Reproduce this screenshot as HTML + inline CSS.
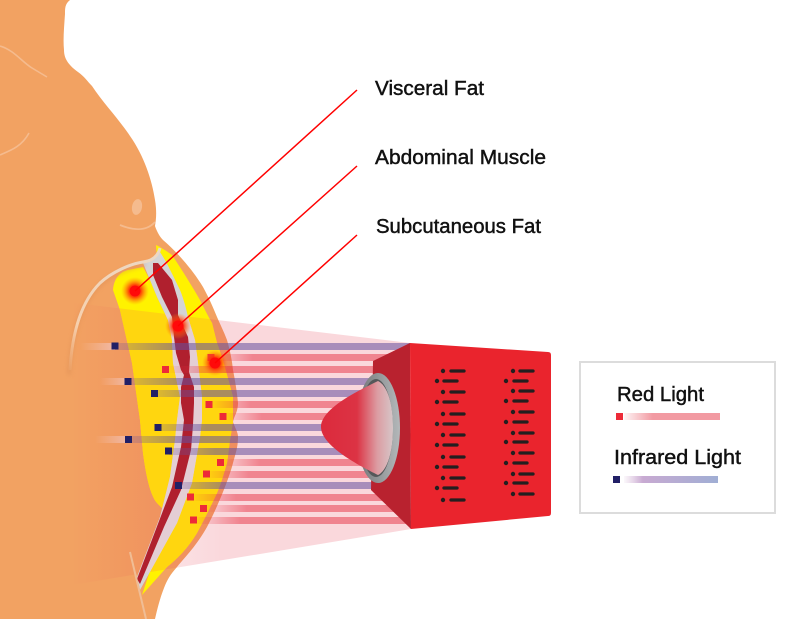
<!DOCTYPE html>
<html><head><meta charset="utf-8"><style>
html,body{margin:0;padding:0;background:#fff;width:800px;height:619px;overflow:hidden}
svg{display:block}
text{font-family:"Liberation Sans",sans-serif;font-size:20px;fill:#111;stroke:#111;stroke-width:.45px}
</style></head><body>
<svg width="800" height="619" viewBox="0 0 800 619" xmlns="http://www.w3.org/2000/svg">
<defs>
<linearGradient id="cone" gradientUnits="userSpaceOnUse" x1="70" y1="0" x2="410" y2="0">
<stop offset="0" stop-color="#e63c50" stop-opacity="0"/><stop offset=".25" stop-color="#e63c50" stop-opacity=".14"/><stop offset=".45" stop-color="#e63c50" stop-opacity=".2"/><stop offset="1" stop-color="#e63c50" stop-opacity=".2"/></linearGradient>
<linearGradient id="bp"><stop offset="0" stop-color="#64509e" stop-opacity=".2"/><stop offset=".2" stop-color="#64509e" stop-opacity=".55"/><stop offset="1" stop-color="#64509e" stop-opacity=".55"/></linearGradient>
<linearGradient id="br"><stop offset="0" stop-color="#e6283c" stop-opacity="0"/><stop offset=".22" stop-color="#e6283c" stop-opacity=".48"/><stop offset="1" stop-color="#e6283c" stop-opacity=".48"/></linearGradient>
<linearGradient id="tail"><stop offset="0" stop-color="#f4c4b0" stop-opacity="0"/><stop offset="1" stop-color="#f0c0b8" stop-opacity=".8"/></linearGradient>
<linearGradient id="lens"><stop offset="0" stop-color="#dc2a3c"/><stop offset=".5" stop-color="#dc3344"/><stop offset=".78" stop-color="#dc9ca2"/><stop offset="1" stop-color="#d6c6c8"/></linearGradient>
<linearGradient id="ring"><stop offset="0" stop-color="#6f7274"/><stop offset="1" stop-color="#b4b8ba"/></linearGradient>
<linearGradient id="lr"><stop offset="0" stop-color="#f29aa2" stop-opacity=".1"/><stop offset=".3" stop-color="#f29aa2"/><stop offset="1" stop-color="#f29aa2"/></linearGradient>
<linearGradient id="li"><stop offset="0" stop-color="#d8b8d8" stop-opacity=".1"/><stop offset=".2" stop-color="#c8aad2"/><stop offset="1" stop-color="#a0aed4"/></linearGradient>
<linearGradient id="crease" gradientUnits="userSpaceOnUse" x1="70" y1="370" x2="150" y2="258"><stop offset="0" stop-color="#f4c8a4" stop-opacity=".1"/><stop offset=".3" stop-color="#f6d0ae"/><stop offset="1" stop-color="#ecd8c4"/></linearGradient>
<radialGradient id="glow"><stop offset="0" stop-color="#ff1010"/><stop offset=".45" stop-color="#ff2a08" stop-opacity=".85"/><stop offset="1" stop-color="#ff8a10" stop-opacity="0"/></radialGradient>
<filter id="b2" x="-50%" y="-50%" width="200%" height="200%"><feGaussianBlur stdDeviation="2"/></filter>
<clipPath id="inCone"><polygon points="30,298 117,308 410,343 411,529 60,587"/></clipPath>
<path id="yo" d="M156 245 C162 248 168 252 172 255 C182 270 192 286 200 300 C205 310 209 318 212 323 L217 343 C222 356 228 378 233 397 L233 422 L230 440 C229 448 228 456 227 463 C224 473 221 484 217 493 C210 508 204 520 197 533 C188 548 178 558 167 567 L142 595 L160 540 L178 500 L188 430 L185 360 L170 300 L157 258 Z"/>
<path id="yi" d="M113 290 C114 278 120 272 128 270 L143 267 L150 280 L157 297 L168 320 L172 340 L173 363 L180 397 L178 430 L175 440 L170 477 L162 508 L157 503 C150 495 146 475 143 453 L140 420 L132 363 L120 310 Z"/>
<path id="gb" d="M143 263 C150 260 153 259 155 258 L160 252 C168 264 174 278 180 290 C184 300 186 308 188 317 L195 340 L198 363 L202 397 L202 420 L200 437 L192 483 L177 523 L140 590 L137 577 L160 517 L170 477 L175 440 L177 420 L180 397 L173 363 L172 340 L168 320 L157 297 L150 280 Z"/>
</defs>

<!-- body -->
<path d="M70 0 C65 4 65 8 65 14 C64 28 63 40 64 50 C64 60 70 66 78 72 C84 76 88 82 92 86 C104 104 118 118 130 136 C144 156 152 180 155 200 C157 212 156 220 155 226 C157 232 160 237 163 240 C170 246 177 253 183 260 C190 268 197 277 203 287 C208 296 213 307 217 317 C220 324 224 332 227 340 C230 350 232 360 233 370 C235 380 237 392 238 403 C238 412 234 416 233 422 C235 428 238 432 238 437 C238 448 235 455 233 463 C230 475 220 502 207 527 C197 545 186 556 177 567 C170 575 167 580 164 588 C160 598 157 610 155 619 L0 619 L0 0 Z" fill="#f2a262"/>

<!-- cone -->
<polygon points="30,298 117,308 410,343 411,529 60,587" fill="url(#cone)"/>

<!-- yellow + band -->
<use href="#yo" fill="#fff200"/>
<use href="#yi" fill="#fff200"/>
<g clip-path="url(#inCone)">
<use href="#yo" fill="#ffd60f"/>
<use href="#yi" fill="#ffd60f"/>
</g>
<use href="#gb" fill="#d4d4d6"/>
<g clip-path="url(#inCone)"><use href="#gb" fill="#e4ced4"/></g>
<!-- muscle -->
<path d="M153 263 L153 275 L162 297 L172 317 L174 337 L176 353 L181 370 L184 375 L181 387 L181 403 L184 420 L181 447 L172 487 L137 579 L140 584 L164 527 L181 490 L191 450 L193 425 L194 403 L194 387 L189 372 L190 357 L188 337 L178 315 L178 300 L172 280 L158 263 Z" fill="#b0202e"/>

<!-- beams -->
<g fill="url(#br)">
<rect x="211" y="354" width="190" height="7"/>
<rect x="165" y="366" width="235" height="7"/>
<rect x="209" y="401" width="190" height="7"/>
<rect x="223" y="413" width="177" height="7"/>
<rect x="220" y="459" width="180" height="7"/>
<rect x="206" y="471" width="194" height="7"/>
<rect x="190" y="494" width="210" height="7"/>
<rect x="203" y="505" width="200" height="7"/>
<rect x="193" y="517" width="215" height="7"/>
</g>
<g fill="url(#bp)">
<rect x="115" y="343" width="295" height="7"/>
<rect x="128" y="378" width="272" height="7"/>
<rect x="155" y="390" width="245" height="7"/>
<rect x="158" y="424" width="242" height="7"/>
<rect x="128" y="436" width="272" height="7"/>
<rect x="169" y="448" width="231" height="7"/>
<rect x="178" y="482" width="222" height="7"/>
</g>
<g fill="url(#tail)">
<rect x="80" y="343" width="35" height="7"/>
<rect x="100" y="378" width="28" height="7"/>
<rect x="95" y="436" width="33" height="7"/>
</g>

<!-- squares -->
<g fill="#ed2a38">
<rect x="207.500" y="354" width="7" height="7"/>
<rect x="162" y="366" width="7" height="7"/>
<rect x="205.500" y="401" width="7" height="7"/>
<rect x="219.500" y="413" width="7" height="7"/>
<rect x="217" y="459" width="7" height="7"/>
<rect x="203" y="470.500" width="7" height="7"/>
<rect x="187" y="493.500" width="7" height="7"/>
<rect x="200" y="505" width="7" height="7"/>
<rect x="190" y="516.500" width="7" height="7"/>
</g>
<g fill="#211f66">
<rect x="111.500" y="342.500" width="7" height="7"/>
<rect x="124.500" y="378" width="7" height="7"/>
<rect x="151" y="390" width="7" height="7"/>
<rect x="154.500" y="424" width="7" height="7"/>
<rect x="125" y="436" width="7" height="7"/>
<rect x="165" y="447.500" width="7" height="7"/>
<rect x="175" y="482" width="7" height="7"/>
</g>

<!-- crease -->
<path d="M70 372 C72 335 80 303 100 283 C112 272 130 264 146 262" fill="none" stroke="#d98a52" stroke-width="3" opacity=".55" filter="url(#b2)" transform="translate(-1 3)"/>
<path d="M70 370 C72 335 80 303 100 283 C112 272 130 264 143 262 C152 261 158 256 160 248" fill="none" stroke="url(#crease)" stroke-width="3"/>
<!-- body lines -->
<path d="M0 46 C14 50 22 62 32 68 L47 77" fill="none" stroke="#f5bb8e" stroke-width="1.600"/>
<path d="M0 155 C12 150 22 146 29 133" fill="none" stroke="#f5bb8e" stroke-width="1.600"/>
<path d="M120 225 C132 230 146 232 155 222" fill="none" stroke="#f5bb8e" stroke-width="1.800"/>
<ellipse cx="137" cy="207" rx="5" ry="8" transform="rotate(10 137 207)" fill="#f5bb8e"/>
<path d="M130 552 L146 619" fill="none" stroke="#f0bd95" stroke-width="2"/>

<!-- device -->
<polygon points="373,361 410,343 411,529 371,490" fill="#b9222f"/>
<ellipse cx="378" cy="428" rx="22" ry="55" fill="url(#ring)"/>
<ellipse cx="376" cy="428" rx="17" ry="49" fill="#55585a"/>
<path d="M378 381 C360 390 321 408 321 427 C321 446 360 466 378 475 C388 470 393 450 393 428 C393 405 388 386 378 381 Z" fill="url(#lens)"/>
<path d="M410 343 L548 352 Q551 352 551 355 L551 513 Q551 516 548 516 L411 529 Z" fill="#ea242d"/>

<!-- dashes -->
<g fill="none" stroke="#231f20" stroke-width="3.300" stroke-linecap="round">
<path d="M451 371h13M444 381h13M451 392h13M444 402h13M451 414h13M444 424h13M451 435h13M444 445h13M451 457h13M444 467h13M451 478h13M444 488h13M451 500h13"/>
<path d="M520 371h13M514 381h13M520 391h13M514 401h13M520 412h13M514 422h13M520 433h13M514 442h13M520 453h13M514 463h13M520 474h13M514 483h13M520 494h13"/>
</g>
<g fill="#231f20">
<circle cx="443" cy="371" r="2.200"/><circle cx="437" cy="381" r="2.200"/><circle cx="443" cy="392" r="2.200"/><circle cx="437" cy="402" r="2.200"/><circle cx="443" cy="414" r="2.200"/><circle cx="437" cy="424" r="2.200"/><circle cx="443" cy="435" r="2.200"/><circle cx="437" cy="445" r="2.200"/><circle cx="443" cy="457" r="2.200"/><circle cx="437" cy="467" r="2.200"/><circle cx="443" cy="478" r="2.200"/><circle cx="437" cy="488" r="2.200"/><circle cx="443" cy="500" r="2.200"/>
<circle cx="513" cy="371" r="2.200"/><circle cx="506" cy="381" r="2.200"/><circle cx="513" cy="391" r="2.200"/><circle cx="506" cy="401" r="2.200"/><circle cx="513" cy="412" r="2.200"/><circle cx="506" cy="422" r="2.200"/><circle cx="513" cy="433" r="2.200"/><circle cx="506" cy="442" r="2.200"/><circle cx="513" cy="453" r="2.200"/><circle cx="506" cy="463" r="2.200"/><circle cx="513" cy="474" r="2.200"/><circle cx="506" cy="483" r="2.200"/><circle cx="513" cy="494" r="2.200"/>
</g>

<!-- glows -->
<circle cx="135" cy="291" r="14" fill="url(#glow)"/>
<circle cx="178" cy="326" r="13" fill="url(#glow)"/>
<circle cx="215" cy="363" r="13" fill="url(#glow)"/>
<circle cx="135" cy="291" r="5.500" fill="#ff0a0a"/>
<circle cx="178" cy="326" r="5.500" fill="#ff0a0a"/>
<circle cx="215" cy="363" r="5.500" fill="#ff0a0a"/>
<g stroke="#ff0000" stroke-width="1.500">
<line x1="357" y1="90" x2="135" y2="291"/>
<line x1="357" y1="166" x2="178" y2="326"/>
<line x1="357" y1="235" x2="215" y2="363"/>
</g>

<!-- labels -->
<text x="375" y="95" textLength="109" lengthAdjust="spacingAndGlyphs">Visceral Fat</text>
<text x="375" y="164" textLength="171" lengthAdjust="spacingAndGlyphs">Abdominal Muscle</text>
<text x="376" y="233" textLength="165" lengthAdjust="spacingAndGlyphs">Subcutaneous Fat</text>

<!-- legend -->
<rect x="580" y="362" width="195" height="151" fill="#fff" stroke="#dcdcdc" stroke-width="2"/>
<text x="617" y="401" textLength="87" lengthAdjust="spacingAndGlyphs">Red Light</text>
<text x="614" y="464" textLength="127" lengthAdjust="spacingAndGlyphs">Infrared Light</text>
<rect x="624" y="413" width="96" height="7" fill="url(#lr)"/>
<rect x="616" y="413" width="7" height="7" fill="#ed2a38"/>
<rect x="624" y="476" width="94" height="7" fill="url(#li)"/>
<rect x="613" y="476" width="7" height="7" fill="#211f66"/>
</svg>
</body></html>
